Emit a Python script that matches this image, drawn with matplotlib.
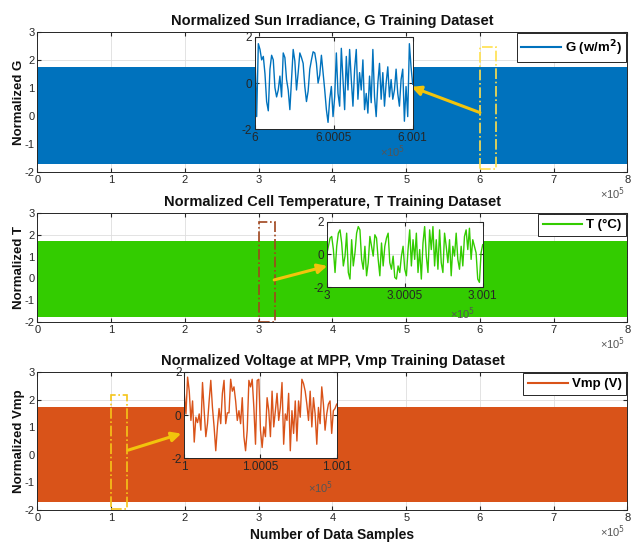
import numpy as np
import matplotlib
matplotlib.use("Agg")
import matplotlib.pyplot as plt
from matplotlib.patches import Rectangle

plt.rcParams['font.family'] = ['Liberation Sans', 'DejaVu Sans']
plt.rcParams['axes.unicode_minus'] = False

# envelope of the full normalized training sets (sample index vs value)
env_x = [0, 100000, 200000, 300000, 400000, 500000, 600000, 700000, 800000]
g_hi = [1.75, 1.75, 1.75, 1.75, 1.75, 1.75, 1.75, 1.75, 1.75]
g_lo = [-1.72, -1.72, -1.72, -1.72, -1.72, -1.72, -1.72, -1.72, -1.72]
t_hi = [1.72, 1.72, 1.72, 1.72, 1.72, 1.72, 1.72, 1.72, 1.72]
t_lo = [-1.75, -1.75, -1.75, -1.75, -1.75, -1.75, -1.75, -1.75, -1.75]
v_hi = [1.74, 1.74, 1.74, 1.74, 1.74, 1.74, 1.74, 1.74, 1.74]
v_lo = [-1.72, -1.72, -1.72, -1.72, -1.72, -1.72, -1.72, -1.72, -1.72]

# zoomed windows of 100 samples
g_zoom = [1.2, -1.45, 1.7, 1.45, 1.0, 1.15, 0.4, -0.8, -1.2, 0.6, 1.2, 1.0, -0.2, -0.6,
          -0.3, 0.3, -0.6, 1.3, 1.1, 0.15, -0.3, -1.15, 0.15, 1.45, 0.95, -0.3, 0.45, 1.3,
          1.1, 0.85, -0.15, -0.8, -0.35, 0.6, 1.0, 1.35, 1.3, 0.85, 0.0, 0.35, 1.2, 0.45,
          -0.3, -1.15, -1.7, -0.7, -0.15, -1.45, -0.6, 1.3, -0.45, -1.0, 1.5, 0.15, -1.15,
          1.15, -0.3, 1.45, 0.15, -1.0, 0.6, 1.45, -0.7, 0.45, -0.3, 1.0, -1.15, -0.45,
          -1.3, 0.3, -0.85, 1.45, -0.6, -1.45, 0.0, 0.85, -0.7, 0.45, -1.0, 0.0, 0.7, -0.6,
          0.15, -0.7, -0.3, 0.6, -0.45, -1.0, 0.15, 0.6, -1.65, -0.15, -1.45, 1.7, 0.7, -0.05]
t_zoom = [0.0, 0.5, 1.0, 1.1, 0.3, -1.1, 0.5, 1.3, 1.5, 0.7, -0.7, -0.1, 1.3, -1.1, -1.5,
          0.9, -0.7, 0.1, 1.3, 1.7, 1.5, -0.3, -0.9, 0.5, -1.3, -0.5, 1.1, 0.5, -0.1, 1.2,
          1.0, -0.3, -1.3, 0.7, -0.7, 0.5, 1.0, 1.3, -0.5, -0.9, -0.1, -1.4, -1.5, -0.7,
          -1.1, -0.1, 0.5, -0.9, -1.3, 0.3, 1.5, -0.7, 0.9, -0.3, 1.3, -1.1, 0.3, -1.5, 0.7,
          1.7, -0.1, -1.1, 1.5, 0.3, 1.7, -0.7, 0.9, -0.9, 1.5, -0.5, -1.1, 1.3, 0.5, -0.5,
          0.9, -1.3, 0.5, -0.1, 1.3, -0.3, -0.9, 0.5, -0.7, 1.1, 1.5, 0.3, 1.6, -0.3, 0.9,
          0.5, 0.1, -1.5, -1.7, 0.1, 0.6]
v_zoom = [1.0, 0.05, 1.75, 1.1, -0.25, 0.65, -1.25, -0.1, -0.35, 0.05, -0.7, 1.5, 0.2,
          -1.0, -0.4, 0.65, 1.6, 0.35, -0.55, -1.65, -0.55, 0.3, -0.4, 1.0, 1.6, -0.4, 0.1,
          0.1, 1.65, 1.1, 1.3, 0.65, -0.25, 0.2, -0.4, 0.8, -1.0, -1.65, -0.7, 1.6, 1.3,
          1.65, 0.35, -1.35, 1.6, 1.65, -0.7, -1.5, -0.55, -1.0, 0.8, 0.2, -1.0, 1.1, -0.55,
          0.2, 1.0, -0.25, 0.35, 1.5, -1.35, 0.05, -0.25, 1.0, -1.65, 0.2, -0.85, 0.65,
          -1.2, 0.65, -0.1, 1.65, 1.45, 1.1, 0.5, -0.25, 1.1, -0.55, 0.8, 0.05, -1.35, 0.35,
          -0.4, 1.3, 0.5, -0.7, 0.05, 0.5, 0.65, -0.85, 0.2, 0.3, 0.5]

g_start, t_start, v_start = 600000, 300000, 100000

c_g = '#0072bd'
c_t = '#33cc00'
c_v = '#d95319'
c_arrow = '#f2c40c'
txt = '#262626'

panels = [
    dict(pos=[0.0593, 0.6827, 0.9335, 0.2583], hi=g_hi, lo=g_lo, color=c_g,
         title='Normalized Sun Irradiance, G Training Dataset', ylabel='Normalized G',
         label='G (w/m$^\\mathbf{2}$)', zoom=g_zoom, start=g_start,
         box_top=2.47, box_bot=-1.9, box_color='#ffe04d',
         tail=(6.0, 0.12), head=(5.07, 1.04),
         inset=[0.4035, 0.7614, 0.2495, 0.1708], tick_lbl=['6', '6.0005', '6.001'],
         exp_pos=(393, 152)),
    dict(pos=[0.0593, 0.4060, 0.9335, 0.2010], hi=t_hi, lo=t_lo, color=c_t,
         title='Normalized Cell Temperature, T Training Dataset', ylabel='Normalized T',
         label='T (°C)', zoom=t_zoom, start=t_start,
         box_top=2.6, box_bot=-2.0, box_color='#a0461e',
         tail=(3.21, -0.07), head=(3.93, 0.57),
         inset=[0.5170, 0.4700, 0.2468, 0.1210], tick_lbl=['3', '3.0005', '3.001'],
         exp_pos=(463, 314)),
    dict(pos=[0.0593, 0.0590, 0.9335, 0.2546], hi=v_hi, lo=v_lo, color=c_v,
         title='Normalized Voltage at MPP, Vmp Training Dataset', ylabel='Normalized Vmp',
         label='Vmp (V)', zoom=v_zoom, start=v_start,
         box_top=2.15, box_bot=-1.95, box_color='#f5c518',
         tail=(1.23, 0.17), head=(1.95, 0.77),
         inset=[0.2916, 0.1544, 0.2411, 0.1598], tick_lbl=['1', '1.0005', '1.001'],
         exp_pos=(321, 488)),
]

fig = plt.figure(figsize=(6.32, 5.42), dpi=100)

for p in panels:
    ax = fig.add_axes(p['pos'])
    ax.fill_between(env_x, p['lo'], p['hi'], color=p['color'], lw=0, zorder=2)
    ax.plot([], [], color=p['color'], lw=1.5, label=p['label'])
    ax.set_xlim(0, 800000)
    ax.set_ylim(-2, 3)
    ax.set_xticks(env_x)
    ax.set_xticklabels([str(i) for i in range(9)])
    ax.set_yticks([-2, -1, 0, 1, 2, 3])
    ax.grid(True, color='#dedede', lw=0.6, zorder=0)
    ax.set_axisbelow(True)
    ax.tick_params(direction='in', top=True, right=True, length=3, labelsize=8,
                   colors=txt, pad=2)
    for s in ax.spines.values():
        s.set_color(txt)
        s.set_linewidth(0.7)
    ax.set_title(p['title'], fontsize=10.5, fontweight='bold', pad=5, color='#111111')
    ax.set_ylabel(p['ylabel'], fontsize=9.5, fontweight='bold', labelpad=0, color='#111111')
    ax.annotate('×10$^5$', xy=(1.0, 0.0), xycoords='axes fraction',
                xytext=(-2, -22), textcoords='offset pixels',
                ha='right', va='center', fontsize=8, color='#555555')
    leg = ax.legend(loc='upper right', prop={'weight': 'bold', 'size': 9.5},
                    handlelength=3.0, borderaxespad=0.1, fancybox=False,
                    framealpha=1, edgecolor=txt, borderpad=0.35, handletextpad=0.3)
    leg.get_frame().set_linewidth(0.7)

    # zoom window marker and pointer
    ax.add_patch(Rectangle((p['start'], p['box_bot']), 22000, p['box_top'] - p['box_bot'],
                           fill=False, ec=p['box_color'], lw=1.2, ls='-.', zorder=4))
    ax.annotate('', xy=(p['head'][0] * 1e5, p['head'][1]),
                xytext=(p['tail'][0] * 1e5, p['tail'][1]),
                arrowprops=dict(arrowstyle='-|>', color=c_arrow, lw=2.2,
                                mutation_scale=14, shrinkA=0, shrinkB=0),
                annotation_clip=False, zorder=5)

    # inset with the 100-sample window
    ins = fig.add_axes(p['inset'])
    xs = np.linspace(p['start'], p['start'] + 100, len(p['zoom']))
    ins.plot(xs, p['zoom'], color=p['color'], lw=1.0)
    ins.set_xlim(p['start'], p['start'] + 100)
    ins.set_ylim(-2, 2)
    ins.set_xticks([p['start'], p['start'] + 50, p['start'] + 100])
    ins.set_xticklabels(p['tick_lbl'])
    ins.set_yticks([-2, 0, 2])
    ins.grid(True, color='#dedede', lw=0.6)
    ins.set_axisbelow(True)
    ins.tick_params(direction='in', top=True, right=True, length=3, labelsize=8.5,
                    colors=txt, pad=2)
    for s in ins.spines.values():
        s.set_color(txt)
        s.set_linewidth(0.7)
    fig.text(p['exp_pos'][0] / 632, 1 - p['exp_pos'][1] / 542, '×10$^5$',
             ha='center', va='center', fontsize=8, color='#555555')

fig.text(332 / 632, 1 - 535 / 542, 'Number of Data Samples', ha='center', va='center',
         fontsize=10, fontweight='bold', color='#111111')

fig.savefig('out.png', dpi=100)
